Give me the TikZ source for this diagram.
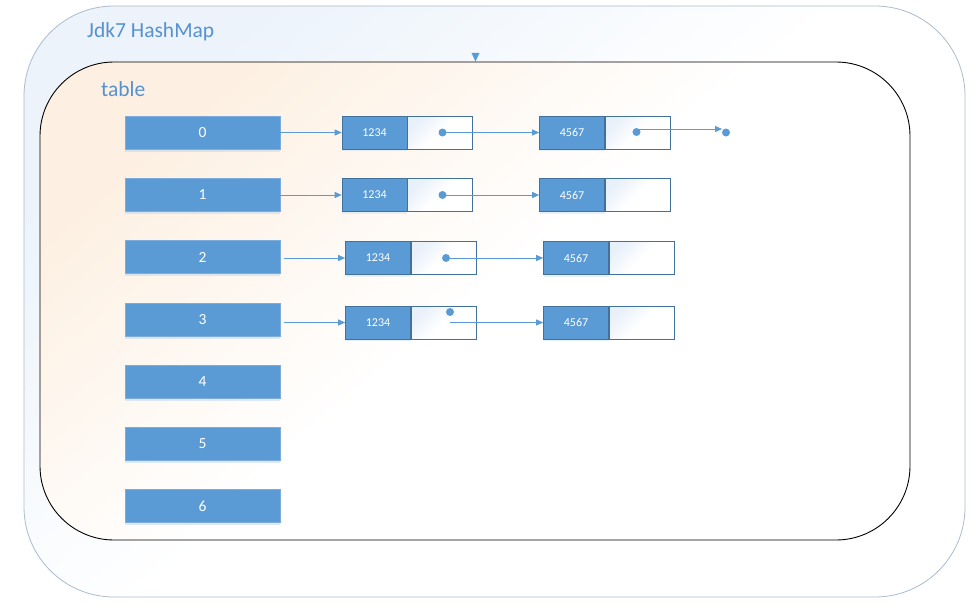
\documentclass[tikz,border=0pt]{standalone}
\usepackage{fontspec}
\setmainfont{Carlito}
\usetikzlibrary{arrows.meta,shadows}
\definecolor{mblue}{RGB}{91,155,213}
\definecolor{dline}{RGB}{65,113,156}
\definecolor{cellline}{RGB}{125,172,220}
\definecolor{outerline}{RGB}{173,187,204}
\definecolor{outertint}{RGB}{236,243,251}
\definecolor{innertint}{RGB}{253,240,226}
\definecolor{ptrtint}{RGB}{232,240,250}
\definecolor{tblue}{RGB}{86,146,208}
\begin{document}
\begin{tikzpicture}[x=1pt,y=-1pt,
  cell/.style={fill=mblue, draw=cellline, line width=0.6pt, minimum width=155pt, minimum height=33pt, inner sep=0pt, text=white, font=\fontsize{15.5}{18}\selectfont, drop shadow={shadow xshift=0pt, shadow yshift=-2.5pt, fill=mblue!45, opacity=0.45}},
  keybox/.style={fill=mblue, draw=dline, line width=0.6pt, minimum width=65pt, minimum height=33pt, inner sep=0pt, text=white, font=\fontsize{12}{14}\selectfont, drop shadow={shadow xshift=0pt, shadow yshift=-2pt, fill=mblue!40, opacity=0.35}},
  ptrbox/.style={draw=dline, line width=0.6pt, top color=ptrtint, bottom color=white, middle color=white, shading angle=45, minimum width=65pt, minimum height=33pt, inner sep=0pt, anchor=west},
  dot/.style={circle, fill=mblue, inner sep=0pt, minimum size=8pt},
  conn/.style={draw=mblue, line width=0.8pt, -{Triangle[length=7pt,width=6pt]}},
  lbl/.style={anchor=west, inner sep=0pt, text=tblue, font=\fontsize{21.5}{24}\selectfont}
]
\useasboundingbox (0,0) rectangle (977,610);
\fill[white] (0,0) rectangle (977,610);
% outer container
\path[draw=outerline, line width=0.8pt, rounded corners=90pt, top color=outertint, bottom color=white, middle color=white, shading angle=40] (24,6) rectangle (965,597);
\node[lbl] (title) at (87,32) {Jdk7 HashMap};
\fill[mblue] (471.5,53) -- (479.5,53) -- (475.5,61.5) -- cycle;
% inner table
\path[draw=black, line width=0.9pt, rounded corners=74pt, top color=innertint, bottom color=white, middle color=white, shading angle=40] (40,62) rectangle (910,540);
\node[lbl] (tlabel) at (101,89) {table};
% table cells
\node[cell] (t0) at (202.5,132.5) {0};
\node[cell] (t1) at (202.5,195) {1};
\node[cell] (t2) at (202.5,257) {2};
\node[cell] (t3) at (202.5,320) {3};
\node[cell] (t4) at (202.5,382) {4};
\node[cell] (t5) at (202.5,444) {5};
\node[cell] (t6) at (202.5,506) {6};
% row 0
\node[keybox] (k00) at (374.5,132.5) {1234};
\node[ptrbox] (p00) at (k00.east) {};
\node[keybox] (k01) at (572,132.5) {4567};
\node[ptrbox] (p01) at (k01.east) {};
% row 1
\node[keybox] (k10) at (374.5,195) {1234};
\node[ptrbox] (p10) at (k10.east) {};
\node[keybox] (k11) at (572,195) {4567};
\node[ptrbox] (p11) at (k11.east) {};
% row 2
\node[keybox] (k20) at (378,258) {1234};
\node[ptrbox] (p20) at (k20.east) {};
\node[keybox] (k21) at (576,258) {4567};
\node[ptrbox] (p21) at (k21.east) {};
% row 3
\node[keybox] (k30) at (378,322.5) {1234};
\node[ptrbox] (p30) at (k30.east) {};
\node[keybox] (k31) at (576,322.5) {4567};
\node[ptrbox] (p31) at (k31.east) {};
% connectors
\draw[conn] (t0.east) -- (k00.west);
\draw[conn] (t1.east) -- (k10.west);
\draw[conn] ([xshift=4pt]t2.east |- k20.west) -- (k20.west);
\draw[conn] ([xshift=4pt]t3.east |- k30.west) -- (k30.west);
\node[dot] (d00) at (442.5,132.5) {};
\node[dot] (d01) at (636.5,132) {};
\node[dot] (e0) at (726,132.5) {};
\coordinate (e0tip) at (722,129);
\draw[conn] (d00.center) -- (k01.west);
\draw[conn] (d01.center |- e0tip) -- (e0tip);
\node[dot] (d10) at (442.5,195) {};
\draw[conn] (d10.center) -- (k11.west);
\node[dot] (d20) at (446,258) {};
\draw[conn] (d20.center) -- (k21.west);
\node[dot] (d30) at (450,312) {};
\coordinate (s30) at (450,322.5);
\draw[conn] (s30) -- (k31.west);
\end{tikzpicture}
\end{document}
